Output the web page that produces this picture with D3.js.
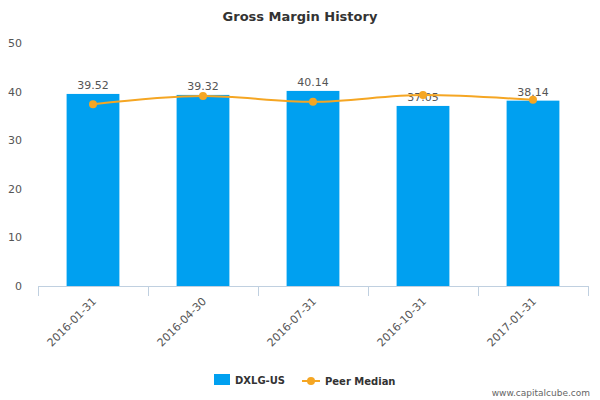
<!DOCTYPE html><html><head><meta charset="utf-8"><script src="https://cdn.jsdelivr.net/npm/d3@7"></script>
<style>body{margin:0;background:#fff}text{font-family:"DejaVu Sans",sans-serif}</style></head><body><svg id="c" width="600" height="400"></svg><script>
const categories=["2016-01-31","2016-04-30","2016-07-31","2016-10-31","2017-01-31"];
const barValues=[39.52,39.32,40.14,37.05,38.14];
const peerValues=[37.4,39.1,37.9,39.3,38.3];
const yTicks=[0,10,20,30,40,50];
const svg=d3.select("#c");
const x=d3.scaleBand().domain(categories).range([38,588]).paddingInner(0.52).paddingOuter(0.26);
const xb=d3.scaleBand().domain(categories).range([38,588]);
const y=d3.scaleLinear().domain([0,50]).range([286,43]);
svg.append("text").attr("x",300).attr("y",21).attr("text-anchor","middle").attr("font-size",13).attr("font-weight","bold").attr("fill","#333").text("Gross Margin History");
svg.selectAll(".yl").data(yTicks).join("text").attr("x",22).attr("y",d=>y(d)+4).attr("text-anchor","end").attr("font-size",11).attr("fill","#555").text(d=>d);
svg.append("line").attr("x1",38).attr("x2",588).attr("y1",286.5).attr("y2",286.5).attr("stroke","#c0d0e0");
const bounds=categories.map(c=>xb(c)).concat([588]);
svg.selectAll(".tk").data(bounds).join("line").attr("x1",d=>d+0.5).attr("x2",d=>d+0.5).attr("y1",286).attr("y2",296).attr("stroke","#c0d0e0");
svg.selectAll(".bar").data(barValues).join("rect").attr("x",(d,i)=>x(categories[i])).attr("width",x.bandwidth()).attr("y",d=>y(d)).attr("height",d=>286-y(d)).attr("fill","#00a0f0");
svg.selectAll(".bl").data(barValues).join("text").attr("x",(d,i)=>x(categories[i])+x.bandwidth()/2).attr("y",d=>y(d)-5).attr("text-anchor","middle").attr("font-size",11).attr("fill","#555").text(d=>d.toFixed(2));
const cx=i=>xb(categories[i])+xb.bandwidth()/2;
svg.append("path").datum(peerValues).attr("d",d3.line().x((d,i)=>cx(i)).y(d=>y(d)).curve(d3.curveMonotoneX)).attr("fill","none").attr("stroke","#f5a623").attr("stroke-width",2);
svg.selectAll(".pt").data(peerValues).join("circle").attr("cx",(d,i)=>cx(i)).attr("cy",d=>y(d)).attr("r",4).attr("fill","#f5a623");
svg.selectAll(".xl").data(categories).join("text").attr("transform",(d,i)=>`translate(${cx(i)+4},${302}) rotate(-45)`).attr("text-anchor","end").attr("font-size",11).attr("fill","#555").text(d=>d);
svg.append("rect").attr("x",214).attr("y",374).attr("width",16).attr("height",11).attr("fill","#00a0f0");
svg.append("text").attr("x",235).attr("y",384).attr("font-size",10).attr("font-weight","bold").attr("fill","#333").text("DXLG-US");
svg.append("line").attr("x1",302).attr("x2",320).attr("y1",381).attr("y2",381).attr("stroke","#f5a623").attr("stroke-width",2);
svg.append("circle").attr("cx",311).attr("cy",381).attr("r",4).attr("fill","#f5a623");
svg.append("text").attr("x",325).attr("y",385).attr("font-size",10).attr("font-weight","bold").attr("fill","#333").text("Peer Median");
svg.append("text").attr("x",590).attr("y",396).attr("text-anchor","end").attr("font-size",9).attr("fill","#666").text("www.capitalcube.com");
</script></body></html>
